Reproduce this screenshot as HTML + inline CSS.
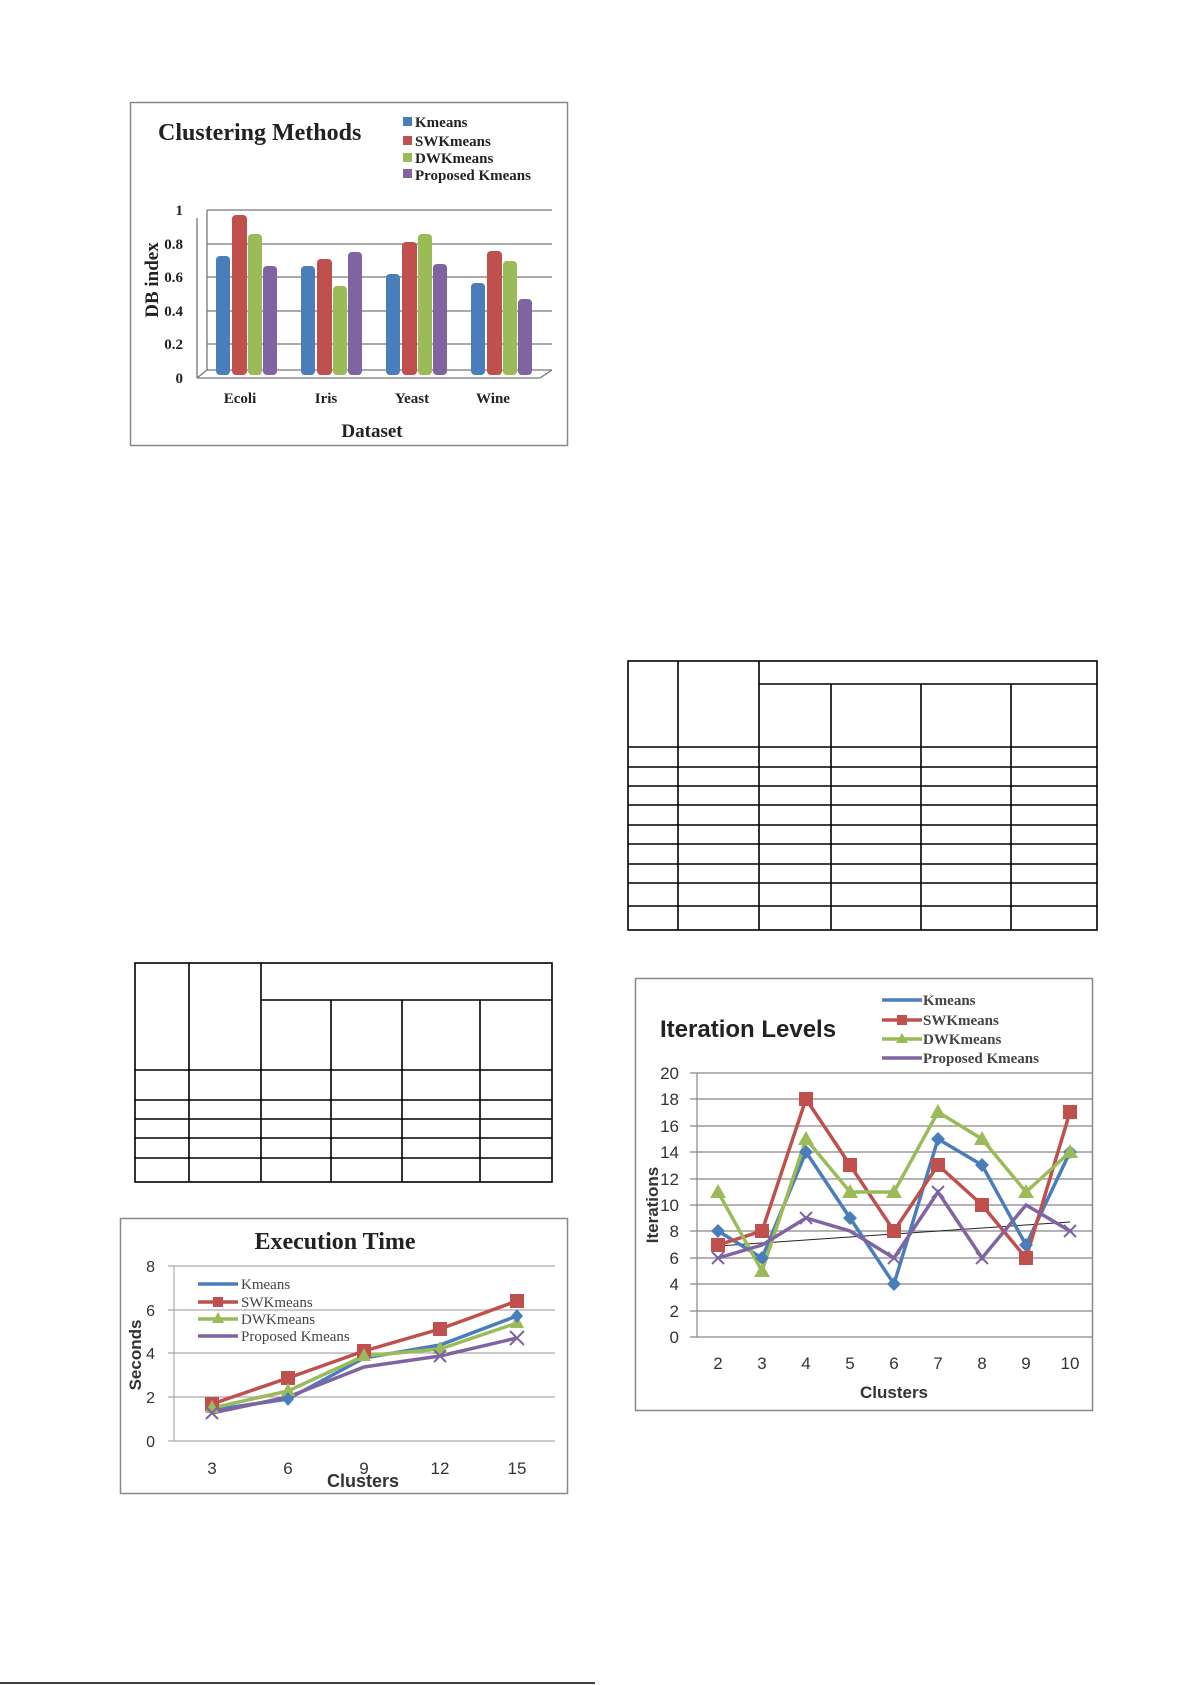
<!DOCTYPE html>
<html><head><meta charset="utf-8"><style>
html,body{margin:0;padding:0;background:#fff;}
svg{display:block;}
.s{font-family:"Liberation Serif",serif;}
.a{font-family:"Liberation Sans",sans-serif;}
</style></head><body>
<svg width="1191" height="1685" viewBox="0 0 1191 1685" xmlns="http://www.w3.org/2000/svg">
<rect width="1191" height="1685" fill="#fff"/>

<!-- Bar chart -->
<rect x="130.5" y="102.5" width="437" height="343" fill="#fff" stroke="#888" stroke-width="1.5"/>
<text x="158" y="140" class="s" font-size="24" font-weight="bold" fill="#222">Clustering Methods</text>
<g class="s" font-size="15" font-weight="bold" fill="#222">
<rect x="403" y="117" width="9" height="9" fill="#4a7ebb"/><text x="415" y="127">Kmeans</text>
<rect x="403" y="136" width="9" height="9" fill="#c0504d"/><text x="415" y="146">SWKmeans</text>
<rect x="403" y="153" width="9" height="9" fill="#9bbb59"/><text x="415" y="163">DWKmeans</text>
<rect x="403" y="169" width="9" height="9" fill="#8064a2"/><text x="415" y="180">Proposed Kmeans</text>
</g>
<g stroke="#777" stroke-width="1.3" fill="none">
<line x1="207" y1="210" x2="552" y2="210"/>
<line x1="207" y1="244" x2="552" y2="244"/>
<line x1="207" y1="277" x2="552" y2="277"/>
<line x1="207" y1="311" x2="552" y2="311"/>
<line x1="207" y1="344" x2="552" y2="344"/>
<line x1="207" y1="370" x2="552" y2="370"/>
<line x1="207" y1="210" x2="207" y2="370"/>
<line x1="197" y1="378" x2="207" y2="370"/>
<line x1="197" y1="218" x2="197" y2="378"/>
<line x1="197" y1="378" x2="540" y2="378"/>
<line x1="540" y1="378" x2="552" y2="370"/>
</g>
<g class="s" font-size="15" font-weight="bold" fill="#222" text-anchor="end">
<text x="183" y="215">1</text><text x="183" y="249">0.8</text><text x="183" y="282">0.6</text>
<text x="183" y="316">0.4</text><text x="183" y="349">0.2</text><text x="183" y="383">0</text>
</g>
<g>
<rect x="216" y="256" width="14" height="119" rx="4" fill="#4a7ebb"/>
<rect x="232" y="215" width="15" height="160" rx="4" fill="#c0504d"/>
<rect x="248" y="234" width="14" height="141" rx="4" fill="#9bbb59"/>
<rect x="263" y="266" width="14" height="109" rx="4" fill="#8064a2"/>
<rect x="301" y="266" width="14" height="109" rx="4" fill="#4a7ebb"/>
<rect x="317" y="259" width="15" height="116" rx="4" fill="#c0504d"/>
<rect x="333" y="286" width="14" height="89" rx="4" fill="#9bbb59"/>
<rect x="348" y="252" width="14" height="123" rx="4" fill="#8064a2"/>
<rect x="386" y="274" width="14" height="101" rx="4" fill="#4a7ebb"/>
<rect x="402" y="242" width="15" height="133" rx="4" fill="#c0504d"/>
<rect x="418" y="234" width="14" height="141" rx="4" fill="#9bbb59"/>
<rect x="433" y="264" width="14" height="111" rx="4" fill="#8064a2"/>
<rect x="471" y="283" width="14" height="92" rx="4" fill="#4a7ebb"/>
<rect x="487" y="251" width="15" height="124" rx="4" fill="#c0504d"/>
<rect x="503" y="261" width="14" height="114" rx="4" fill="#9bbb59"/>
<rect x="518" y="299" width="14" height="76" rx="4" fill="#8064a2"/>
</g>
<g class="s" font-size="15" font-weight="bold" fill="#222" text-anchor="middle">
<text x="240" y="403">Ecoli</text><text x="326" y="403">Iris</text><text x="412" y="403">Yeast</text><text x="493" y="403">Wine</text>
<text x="372" y="437" font-size="19">Dataset</text>
</g>
<text transform="translate(158,280) rotate(-90)" class="s" font-size="19" font-weight="bold" fill="#222" text-anchor="middle">DB index</text>

<!-- Table 2 (right) -->
<g stroke="#000" stroke-width="1.6" fill="none">
<rect x="628" y="661" width="469" height="269"/>
<line x1="678" y1="661" x2="678" y2="930"/>
<line x1="759" y1="661" x2="759" y2="930"/>
<line x1="831" y1="684" x2="831" y2="930"/>
<line x1="921" y1="684" x2="921" y2="930"/>
<line x1="1011" y1="684" x2="1011" y2="930"/>
<line x1="759" y1="684" x2="1097" y2="684"/>
<line x1="628" y1="747" x2="1097" y2="747"/>
<line x1="628" y1="767" x2="1097" y2="767"/>
<line x1="628" y1="786" x2="1097" y2="786"/>
<line x1="628" y1="805" x2="1097" y2="805"/>
<line x1="628" y1="825" x2="1097" y2="825"/>
<line x1="628" y1="844" x2="1097" y2="844"/>
<line x1="628" y1="864" x2="1097" y2="864"/>
<line x1="628" y1="883" x2="1097" y2="883"/>
<line x1="628" y1="906" x2="1097" y2="906"/>
</g>

<!-- Table 1 (left) -->
<g stroke="#000" stroke-width="1.6" fill="none">
<rect x="135" y="963" width="417" height="219"/>
<line x1="189" y1="963" x2="189" y2="1182"/>
<line x1="261" y1="963" x2="261" y2="1182"/>
<line x1="331" y1="1000" x2="331" y2="1182"/>
<line x1="402" y1="1000" x2="402" y2="1182"/>
<line x1="480" y1="1000" x2="480" y2="1182"/>
<line x1="261" y1="1000" x2="552" y2="1000"/>
<line x1="135" y1="1070" x2="552" y2="1070"/>
<line x1="135" y1="1100" x2="552" y2="1100"/>
<line x1="135" y1="1119" x2="552" y2="1119"/>
<line x1="135" y1="1138" x2="552" y2="1138"/>
<line x1="135" y1="1158" x2="552" y2="1158"/>
</g>

<!-- Execution Time -->
<rect x="120.5" y="1218.5" width="447" height="275" fill="#fff" stroke="#888" stroke-width="1.5"/>
<text x="335" y="1249" class="s" font-size="24" font-weight="bold" fill="#222" text-anchor="middle">Execution Time</text>
<g stroke="#aaa" stroke-width="1.2">
<line x1="168" y1="1266" x2="555" y2="1266"/>
<line x1="168" y1="1310" x2="555" y2="1310"/>
<line x1="168" y1="1353" x2="555" y2="1353"/>
<line x1="168" y1="1397" x2="555" y2="1397"/>
<line x1="168" y1="1441" x2="555" y2="1441"/>
<line x1="174" y1="1266" x2="174" y2="1441"/>
</g>
<g class="a" font-size="16" fill="#333" text-anchor="end">
<text x="155" y="1272">8</text><text x="155" y="1316">6</text><text x="155" y="1359">4</text>
<text x="155" y="1403">2</text><text x="155" y="1447">0</text>
</g>
<g class="a" font-size="17" fill="#333" text-anchor="middle">
<text x="212" y="1474">3</text><text x="288" y="1474">6</text><text x="364" y="1474">9</text>
<text x="440" y="1474">12</text><text x="517" y="1474">15</text>
<text x="363" y="1487" font-weight="bold" font-size="18">Clusters</text>
</g>
<text transform="translate(141,1355) rotate(-90)" class="a" font-size="17" font-weight="bold" fill="#333" text-anchor="middle">Seconds</text>
<polyline points="212,1410 288,1399 364,1358 440,1345 517,1316" fill="none" stroke="#4a7ebb" stroke-width="3.5"/>
<polyline points="212,1404 288,1378 364,1351 440,1329 517,1301" fill="none" stroke="#c0504d" stroke-width="3.5"/>
<polyline points="212,1408 288,1391 364,1356 440,1349 517,1323" fill="none" stroke="#9bbb59" stroke-width="3.5"/>
<polyline points="212,1413 288,1397 364,1367 440,1356 517,1338" fill="none" stroke="#8064a2" stroke-width="3.5"/>
<g fill="#c0504d"><rect x="205" y="1397" width="14" height="14"/><rect x="281" y="1371" width="14" height="14"/><rect x="357" y="1344" width="14" height="14"/><rect x="433" y="1322" width="14" height="14"/><rect x="510" y="1294" width="14" height="14"/></g>
<g fill="#9bbb59"><path d="M212,1400 l7,13 h-14z"/><path d="M288,1383 l7,13 h-14z"/><path d="M364,1348 l7,13 h-14z"/><path d="M440,1341 l7,13 h-14z"/><path d="M517,1315 l7,13 h-14z"/></g>
<g fill="#4a7ebb"><path d="M288,1392 l6,7 -6,7 -6,-7z"/><path d="M517,1309 l6,7 -6,7 -6,-7z"/></g>
<g stroke="#8064a2" stroke-width="2"><path d="M206,1407 l12,12 M218,1407 l-12,12"/><path d="M510,1331 l14,14 M524,1331 l-14,14"/><path d="M434,1350 l12,12 M446,1350 l-12,12"/></g>
<g stroke-width="3.5">
<line x1="198" y1="1284" x2="238" y2="1284" stroke="#4a7ebb"/>
<line x1="198" y1="1302" x2="238" y2="1302" stroke="#c0504d"/>
<line x1="198" y1="1319" x2="238" y2="1319" stroke="#9bbb59"/>
<line x1="198" y1="1336" x2="238" y2="1336" stroke="#8064a2"/>
</g>
<rect x="213" y="1297" width="10" height="10" fill="#c0504d"/>
<path d="M218,1312 l6,11 h-12z" fill="#9bbb59"/>
<g class="s" font-size="15" fill="#444">
<text x="241" y="1289">Kmeans</text><text x="241" y="1307">SWKmeans</text>
<text x="241" y="1324">DWKmeans</text><text x="241" y="1341">Proposed Kmeans</text>
</g>

<!-- Iteration Levels -->
<rect x="635.5" y="978.5" width="457" height="432" fill="#fff" stroke="#888" stroke-width="1.5"/>
<text x="660" y="1037" class="a" font-size="24" font-weight="bold" fill="#222">Iteration Levels</text>
<g stroke="#888" stroke-width="1.2">
<line x1="690" y1="1073" x2="1092" y2="1073"/><line x1="690" y1="1099" x2="1092" y2="1099"/>
<line x1="690" y1="1126" x2="1092" y2="1126"/><line x1="690" y1="1152" x2="1092" y2="1152"/>
<line x1="690" y1="1179" x2="1092" y2="1179"/><line x1="690" y1="1205" x2="1092" y2="1205"/>
<line x1="690" y1="1231" x2="1092" y2="1231"/><line x1="690" y1="1258" x2="1092" y2="1258"/>
<line x1="690" y1="1284" x2="1092" y2="1284"/><line x1="690" y1="1311" x2="1092" y2="1311"/>
<line x1="690" y1="1337" x2="1092" y2="1337"/>
<line x1="697" y1="1073" x2="697" y2="1337"/>
</g>
<g class="a" font-size="17" fill="#333" text-anchor="end">
<text x="679" y="1079">20</text><text x="679" y="1105">18</text><text x="679" y="1132">16</text>
<text x="679" y="1158">14</text><text x="679" y="1185">12</text><text x="679" y="1211">10</text>
<text x="679" y="1237">8</text><text x="679" y="1264">6</text><text x="679" y="1290">4</text>
<text x="679" y="1317">2</text><text x="679" y="1343">0</text>
</g>
<g class="a" font-size="17" fill="#333" text-anchor="middle">
<text x="718" y="1369">2</text><text x="762" y="1369">3</text><text x="806" y="1369">4</text>
<text x="850" y="1369">5</text><text x="894" y="1369">6</text><text x="938" y="1369">7</text>
<text x="982" y="1369">8</text><text x="1026" y="1369">9</text><text x="1070" y="1369">10</text>
<text x="894" y="1398" font-size="17" font-weight="bold">Clusters</text>
</g>
<text transform="translate(658,1205) rotate(-90)" class="a" font-size="17" font-weight="bold" fill="#333" text-anchor="middle">Iterations</text>
<line x1="718" y1="1246" x2="1070" y2="1222" stroke="#222" stroke-width="1"/>
<polyline points="718,1231 762,1258 806,1152 850,1218 894,1284 938,1139 982,1165 1026,1245 1070,1152" fill="none" stroke="#4a7ebb" stroke-width="3.5"/>
<polyline points="718,1245 762,1231 806,1099 850,1165 894,1231 938,1165 982,1205 1026,1258 1070,1112" fill="none" stroke="#c0504d" stroke-width="3.5"/>
<polyline points="718,1192 762,1271 806,1139 850,1192 894,1192 938,1112 982,1139 1026,1192 1070,1152" fill="none" stroke="#9bbb59" stroke-width="3.5"/>
<polyline points="718,1258 762,1245 806,1218 850,1231 894,1258 938,1192 982,1258 1026,1205 1070,1231" fill="none" stroke="#8064a2" stroke-width="3.5"/>
<g fill="#4a7ebb"><path d="M718,1224 l7,7 -7,7 -7,-7z"/><path d="M762,1251 l7,7 -7,7 -7,-7z"/><path d="M806,1145 l7,7 -7,7 -7,-7z"/><path d="M850,1211 l7,7 -7,7 -7,-7z"/><path d="M894,1277 l7,7 -7,7 -7,-7z"/><path d="M938,1132 l7,7 -7,7 -7,-7z"/><path d="M982,1158 l7,7 -7,7 -7,-7z"/><path d="M1026,1238 l7,7 -7,7 -7,-7z"/><path d="M1070,1145 l7,7 -7,7 -7,-7z"/></g>
<g fill="#c0504d"><rect x="711" y="1238" width="14" height="14"/><rect x="755" y="1224" width="14" height="14"/><rect x="799" y="1092" width="14" height="14"/><rect x="843" y="1158" width="14" height="14"/><rect x="887" y="1224" width="14" height="14"/><rect x="931" y="1158" width="14" height="14"/><rect x="975" y="1198" width="14" height="14"/><rect x="1019" y="1251" width="14" height="14"/><rect x="1063" y="1105" width="14" height="14"/></g>
<g fill="#9bbb59"><path d="M718,1184 l8,14 h-16z"/><path d="M762,1263 l8,14 h-16z"/><path d="M806,1131 l8,14 h-16z"/><path d="M850,1184 l8,14 h-16z"/><path d="M894,1184 l8,14 h-16z"/><path d="M938,1104 l8,14 h-16z"/><path d="M982,1131 l8,14 h-16z"/><path d="M1026,1184 l8,14 h-16z"/><path d="M1070,1144 l8,14 h-16z"/></g>
<g stroke="#8064a2" stroke-width="2"><path d="M712,1252 l12,12 M724,1252 l-12,12"/><path d="M800,1212 l12,12 M812,1212 l-12,12"/><path d="M888,1252 l12,12 M900,1252 l-12,12"/><path d="M932,1186 l12,12 M944,1186 l-12,12"/><path d="M976,1252 l12,12 M988,1252 l-12,12"/><path d="M1064,1225 l12,12 M1076,1225 l-12,12"/></g>
<g stroke-width="3.5">
<line x1="882" y1="1000" x2="922" y2="1000" stroke="#4a7ebb"/>
<line x1="882" y1="1020" x2="922" y2="1020" stroke="#c0504d"/>
<line x1="882" y1="1039" x2="922" y2="1039" stroke="#9bbb59"/>
<line x1="882" y1="1058" x2="922" y2="1058" stroke="#8064a2"/>
</g>
<rect x="897" y="1015" width="10" height="10" fill="#c0504d"/>
<path d="M902,1033 l6,10 h-12z" fill="#9bbb59"/>
<g class="s" font-size="15" font-weight="bold" fill="#444">
<text x="923" y="1005">Kmeans</text><text x="923" y="1025">SWKmeans</text>
<text x="923" y="1044">DWKmeans</text><text x="923" y="1063">Proposed Kmeans</text>
</g>

<line x1="0" y1="1683" x2="595" y2="1683" stroke="#000" stroke-width="1.5"/>
</svg>
</body></html>
